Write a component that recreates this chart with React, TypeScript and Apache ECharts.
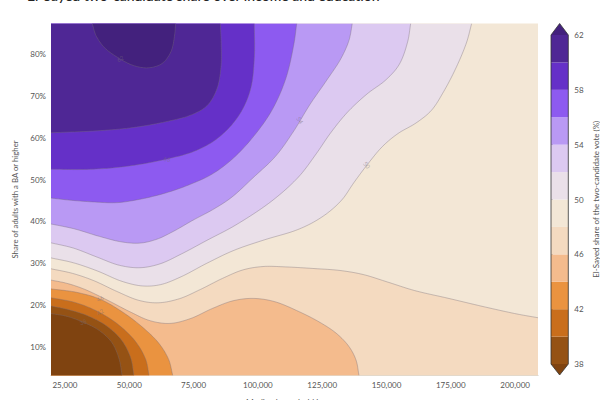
import React, { useEffect, useRef } from "react";
import * as echarts from "echarts";

const TITLE = "El-Sayed two-candidate share over income and education";
const X_NAME = "Median household income";
const Y_NAME = "Share of adults with a BA or higher";
const BAR_NAME = "El-Sayed share of the two-candidate vote (%)";

const incomeTicks = [25, 50, 75, 100, 125, 150, 175, 200];
const shareTicks = [10, 20, 30, 40, 50, 60, 70, 80];
const barTicks = [38, 42, 46, 50, 54, 58, 62];

const INCOME_MIN = 19.56;
const INCOME_MAX = 208.9;
const SHARE_MIN = 3.2;
const SHARE_MAX = 87.3;

const barLevels = [38, 40, 42, 44, 46, 48, 50, 52, 54, 56, 58, 60, 62];
const barColors = ["#955214", "#C96E1C", "#EA9340", "#F4BB8D", "#F4DAC0", "#F3E7D6", "#EAE0E9", "#DCC9F1", "#B999F4", "#8D5AF0", "#6530C8", "#4F2795"];
const colorBelow = "#7F4310";
const colorAbove = "#43217D";

// Contours: [income in $k, share in %]
const c62 = [[35.6, 87.3], [36.7, 84.5], [39.8, 81.4], [46.4, 78.8], [51.4, 77.1], [57.3, 76.4], [63.1, 77.4], [66.6, 80.2], [67.8, 85], [68, 87.3]];
const c60 = [[85.4, 87.3], [85.8, 82.1], [85.9, 76.9], [84.5, 71.4], [80.6, 67.3], [74.8, 65.4], [64.7, 63.8], [51.4, 62.3], [38.6, 61.6], [19.56, 61.2]];
const c58 = [[98.6, 87.3], [98.9, 79.3], [97.7, 71.4], [94.2, 66.6], [89.2, 62.3], [82.5, 58.8], [74.8, 56.4], [64.7, 54.9], [55.3, 53.7], [45.2, 52.8], [32, 52.3], [19.56, 52.5]];
const c56 = [[115.1, 87.3], [114.4, 83.3], [111.3, 73.8], [105.9, 66.6], [99.7, 61.1], [90.3, 54.7], [82.5, 51.1], [72.4, 48.5], [64.7, 46.8], [55.3, 45.4], [45.2, 44.2], [35.9, 44.7], [25.8, 45.1], [19.56, 45.6]];
const c54 = [[136.7, 87.3], [135.8, 83.3], [132.7, 79], [126.9, 73.8], [120.3, 68.3], [113.6, 61.1], [107.4, 55.4], [98.1, 50.6], [89.2, 45.1], [82.5, 42.8], [74.8, 40.4], [67, 37.5], [60.8, 35.6], [54.2, 34.6], [47.6, 34.9], [38.6, 36.3], [28.1, 38.5], [19.56, 39.4]];
const c52 = [[159.4, 87.3], [158.7, 83.3], [155.2, 76.9], [150.2, 73.8], [142.4, 70.7], [134.6, 66.2], [128, 61.1], [123, 56.4], [116.4, 50.6], [106.6, 45.1], [90.3, 38.5], [80.2, 35.6], [69.7, 32], [61.9, 29.6], [54.2, 28.7], [46.4, 29.2], [37.4, 31.5], [28.1, 33.9], [19.56, 34.9]];
const c50 = [[183.1, 87.3], [181.7, 83.3], [177.4, 76.9], [172, 70.7], [167.7, 66.2], [161.9, 63.5], [154.1, 61.1], [148.6, 58.3], [142.4, 53.5], [137, 49.2], [133.1, 45.1], [128, 42.3], [121.4, 39.7], [116.4, 38], [102, 35.6], [90.3, 33.2], [80.2, 30.1], [69.7, 26.5], [61.9, 24.6], [55.3, 24.4], [47.6, 25.3], [37.4, 28.4], [28.1, 30.3], [19.56, 31.3]];
const c48 = [[208.9, 17], [201.9, 17.7], [189.1, 19.4], [173.5, 21.8], [160.3, 23.4], [150.2, 25.6], [140.9, 27.5], [131.9, 28.4], [123, 28.7], [109.8, 29.2], [102, 29.4], [94.2, 28.7], [86.4, 26.5], [77.5, 23.7], [69.7, 21.3], [60.8, 20.3], [54.2, 20.8], [45.2, 23.2], [35.9, 26.1], [28.1, 27.7], [19.56, 28.7]];
const c46 = [[139.3, 3.2], [138.5, 7], [135.8, 10.1], [130.8, 13.4], [124.1, 16], [116.4, 18.4], [105.9, 21.3], [98.1, 21.8], [90.3, 21.3], [82.5, 19.4], [73.6, 16.5], [65.8, 15.3], [58, 16], [50.3, 18.4], [41.3, 21.3], [32, 24.1], [25.8, 25.3], [19.56, 26]];
const c44 = [[66.9, 3.2], [65.8, 7], [61.9, 11], [55.3, 14.8], [47.6, 18.4], [38.6, 21.8], [29.7, 23.2], [19.56, 23.9]];
const c42 = [[57.7, 3.2], [56.9, 7], [53, 11.3], [46.4, 15.3], [38.6, 18.4], [29.7, 20.8], [19.56, 21.8]];
const c40 = [[51.8, 3.2], [51, 7.4], [47.6, 11.7], [41.3, 15.3], [33.6, 17.7], [25.8, 19.1], [19.56, 19.8]];
const c38 = [[47.2, 3.2], [46.4, 7], [43.7, 11.3], [38.6, 14.1], [32, 16], [25.8, 17.5], [19.56, 18]];

const frame = [[INCOME_MIN, SHARE_MIN], [INCOME_MAX, SHARE_MIN], [INCOME_MAX, SHARE_MAX], [INCOME_MIN, SHARE_MAX]];
const TL = [[INCOME_MIN, SHARE_MAX]];
const BL = [[INCOME_MIN, SHARE_MIN]];
const BLR = [[INCOME_MIN, SHARE_MIN], [INCOME_MAX, SHARE_MIN]];

// Painted in order: [contour, closing corners, fill]
const bands: any[] = [
  [c50, TL, barColors[6]],
  [c52, TL, barColors[7]],
  [c54, TL, barColors[8]],
  [c56, TL, barColors[9]],
  [c58, TL, barColors[10]],
  [c60, TL, barColors[11]],
  [c62, [], colorAbove],
  [c48, BLR, barColors[4]],
  [c46, BL, barColors[3]],
  [c44, BL, barColors[2]],
  [c42, BL, barColors[1]],
  [c40, BL, barColors[0]],
  [c38, BL, colorBelow],
];

// [text, income, share, rotation in degrees]
const contourLabels: any[] = [
  ["62", 46.4, 78.9, -28],
  ["58", 64.7, 54.9, 8],
  ["54", 116.4, 64.2, 58],
  ["50", 142.4, 53.5, 52],
  ["46", 38.6, 21.6, -28],
  ["42", 38.6, 18.4, -30],
  ["38", 32, 16, -22],
];

// Light easing of reading noise in the drawn curve; ends stay put.
function ease(pts: number[][]) {
  return pts.map((p, i) => {
    if (i === 0 || i === pts.length - 1) return p;
    const a = pts[i - 1];
    const b = pts[i + 1];
    return [0.18 * a[0] + 0.64 * p[0] + 0.18 * b[0], 0.18 * a[1] + 0.64 * p[1] + 0.18 * b[1]];
  });
}

// Centripetal Catmull-Rom through the read points, used only to draw the curve.
function smoothPx(raw: number[][]) {
  const pts = ease(raw);
  const out: number[][] = [];
  const n = pts.length;
  const lerp = (a: number[], b: number[], ta: number, tb: number, t: number) => {
    const d = tb - ta || 1e-6;
    return [a[0] + ((b[0] - a[0]) * (t - ta)) / d, a[1] + ((b[1] - a[1]) * (t - ta)) / d];
  };
  for (let i = 0; i < n - 1; i++) {
    const p1 = pts[i];
    const p2 = pts[i + 1];
    const p0 = i > 0 ? pts[i - 1] : [2 * p1[0] - p2[0], 2 * p1[1] - p2[1]];
    const p3 = i + 2 < n ? pts[i + 2] : [2 * p2[0] - p1[0], 2 * p2[1] - p1[1]];
    const step = (a: number[], b: number[]) => Math.sqrt(Math.hypot(b[0] - a[0], b[1] - a[1])) || 1e-6;
    const t0 = 0;
    const t1 = t0 + step(p0, p1);
    const t2 = t1 + step(p1, p2);
    const t3 = t2 + step(p2, p3);
    for (let s = 0; s < 10; s++) {
      const t = t1 + ((t2 - t1) * s) / 10;
      const a1 = lerp(p0, p1, t0, t1, t);
      const a2 = lerp(p1, p2, t1, t2, t);
      const a3 = lerp(p2, p3, t2, t3, t);
      const b1 = lerp(a1, a2, t0, t2, t);
      const b2 = lerp(a2, a3, t1, t3, t);
      out.push(lerp(b1, b2, t1, t2, t));
    }
  }
  out.push(pts[n - 1]);
  return out;
}

const LINE = "rgba(120,110,120,0.55)";
const FONT = "Lato";
const TEXT = "#555";

function buildOption() {
  return {
    animation: false,
    backgroundColor: "#fff",
    textStyle: { fontFamily: FONT },
    graphic: [
      {
        type: "text",
        x: 27,
        y: -11.5,
        silent: true,
        style: { text: TITLE, font: `500 14px ${FONT}`, fill: "#222" },
      },
    ],
    grid: [
      { left: 51, top: 23.5, width: 487, height: 352, outerBoundsMode: "none" },
      { left: 551, top: 23.5, width: 17.3, height: 351.5, outerBoundsMode: "none" },
    ],
    xAxis: [
      {
        gridIndex: 0,
        type: "value",
        min: INCOME_MIN,
        max: INCOME_MAX,
        name: X_NAME,
        nameLocation: "middle",
        nameGap: 22,
        nameTextStyle: { fontSize: 8.4, color: TEXT, fontFamily: FONT },
        axisLine: { show: true, onZero: false, lineStyle: { color: "#bbb", width: 0.8 } },
        axisTick: { show: false },
        splitLine: { show: false },
        axisLabel: {
          customValues: incomeTicks,
          formatter: (v: number) => `${v},000`,
          fontSize: 8,
          color: TEXT,
          margin: 5,
          fontFamily: FONT,
        },
      },
      { gridIndex: 1, type: "value", min: 0, max: 1, show: false },
    ],
    yAxis: [
      {
        gridIndex: 0,
        type: "value",
        min: SHARE_MIN,
        max: SHARE_MAX,
        name: Y_NAME,
        nameLocation: "middle",
        nameGap: 30,
        nameTextStyle: { fontSize: 7.8, color: TEXT, fontFamily: FONT },
        axisLine: { show: true, onZero: false, lineStyle: { color: "#bbb", width: 0.8 } },
        axisTick: { show: false },
        splitLine: { show: false },
        axisLabel: {
          customValues: shareTicks,
          formatter: (v: number) => `${v}%`,
          fontSize: 8,
          color: TEXT,
          margin: 5,
          fontFamily: FONT,
        },
      },
      {
        gridIndex: 1,
        type: "value",
        position: "right",
        min: 37.2,
        max: 62.84,
        name: BAR_NAME,
        nameLocation: "middle",
        nameGap: 24,
        nameRotate: 90,
        nameTextStyle: { fontSize: 8, color: TEXT, fontFamily: FONT },
        axisLine: { show: false },
        axisTick: { show: true, customValues: barTicks, length: 2, lineStyle: { color: "#444", width: 0.6 } },
        splitLine: { show: false },
        axisLabel: { customValues: barTicks, fontSize: 8, color: TEXT, margin: 6, fontFamily: FONT },
      },
    ],
    series: [
      {
        type: "custom",
        xAxisIndex: 0,
        yAxisIndex: 0,
        coordinateSystem: "cartesian2d",
        silent: true,
        data: [[0]],
        renderItem: (_p: any, api: any) => ({
          type: "polygon",
          shape: { points: frame.map((p) => api.coord(p)) },
          style: { fill: barColors[5] },
        }),
      },
      {
        type: "custom",
        xAxisIndex: 0,
        yAxisIndex: 0,
        coordinateSystem: "cartesian2d",
        clip: true,
        silent: true,
        data: bands.map((_, i) => [i]),
        renderItem: (_p: any, api: any) => {
          const [contour, closing, fill] = bands[api.value(0)];
          const line = smoothPx(contour.map((p: number[]) => api.coord(p)));
          const corners = closing.map((p: number[]) => api.coord(p));
          return {
            type: "group",
            children: [
              { type: "polygon", shape: { points: [...line, ...corners] }, style: { fill, stroke: null } },
              { type: "polyline", shape: { points: line }, style: { fill: null, stroke: LINE, lineWidth: 0.7 } },
            ],
          };
        },
      },
      {
        type: "custom",
        xAxisIndex: 0,
        yAxisIndex: 0,
        coordinateSystem: "cartesian2d",
        silent: true,
        data: contourLabels.map((_, i) => [i]),
        renderItem: (_p: any, api: any) => {
          const [text, inc, sh, rot] = contourLabels[api.value(0)];
          const [x, y] = api.coord([inc, sh]);
          return {
            type: "text",
            x,
            y,
            rotation: (-rot * Math.PI) / 180,
            style: { text, fontSize: 6, fontFamily: FONT, fill: "rgba(120,110,120,0.5)", align: "center", verticalAlign: "middle" },
          };
        },
      },
      {
        type: "custom",
        xAxisIndex: 1,
        yAxisIndex: 1,
        coordinateSystem: "cartesian2d",
        silent: true,
        data: barColors.map((_, i) => [i]),
        renderItem: (_p: any, api: any) => {
          const i = api.value(0);
          const a = api.coord([0, barLevels[i]]);
          const b = api.coord([1, barLevels[i + 1]]);
          return { type: "rect", shape: { x: a[0], y: b[1], width: b[0] - a[0], height: a[1] - b[1] }, style: { fill: barColors[i] } };
        },
      },
      {
        type: "custom",
        xAxisIndex: 1,
        yAxisIndex: 1,
        coordinateSystem: "cartesian2d",
        silent: true,
        data: [[0]],
        renderItem: (_p: any, api: any) => {
          const p = (x: number, y: number) => api.coord([x, y]);
          const outline = [p(0, 62), p(0.5, 62.84), p(1, 62), p(1, 38), p(0.5, 37.2), p(0, 38)];
          return {
            type: "group",
            children: [
              { type: "polygon", shape: { points: [p(0, 62), p(0.5, 62.84), p(1, 62)] }, style: { fill: colorAbove } },
              { type: "polygon", shape: { points: [p(0, 38), p(0.5, 37.2), p(1, 38)] }, style: { fill: colorBelow } },
              { type: "polygon", shape: { points: outline }, style: { fill: null, stroke: "#333", lineWidth: 0.8 } },
            ],
          };
        },
      },
    ],
  };
}

export default function App() {
  const ref = useRef<HTMLDivElement>(null);
  useEffect(() => {
    const chart = echarts.init(ref.current!, undefined, { renderer: "svg" });
    chart.setOption(buildOption() as any);
    return () => chart.dispose();
  }, []);
  return <div ref={ref} style={{ position: "fixed", left: 0, top: 0, width: 600, height: 400 }} />;
}
